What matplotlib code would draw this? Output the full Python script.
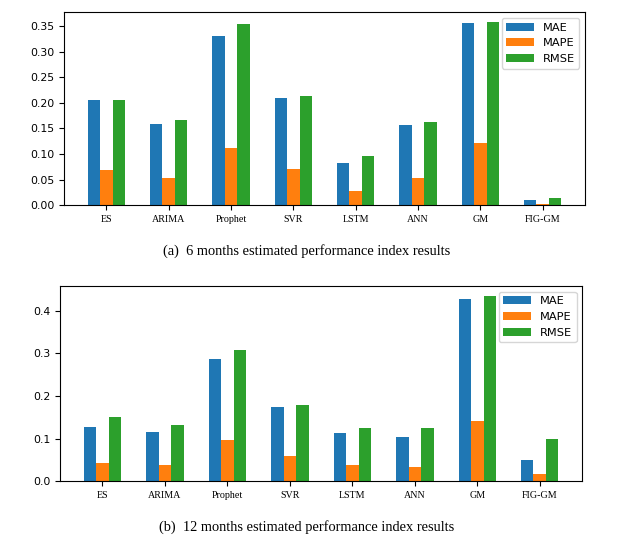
import numpy as np
import matplotlib
matplotlib.use("Agg")
import matplotlib.pyplot as plt

models = ["ES", "ARIMA", "Prophet", "SVR", "LSTM", "ANN", "GM", "FIG-GM"]
metrics = ["MAE", "MAPE", "RMSE"]

# 6 months results
mae_6 = [0.205, 0.158, 0.330, 0.210, 0.083, 0.157, 0.357, 0.010]
mape_6 = [0.069, 0.054, 0.112, 0.071, 0.028, 0.053, 0.121, 0.003]
rmse_6 = [0.206, 0.167, 0.355, 0.214, 0.096, 0.163, 0.359, 0.014]

# 12 months results
mae_12 = [0.128, 0.115, 0.286, 0.173, 0.112, 0.104, 0.428, 0.050]
mape_12 = [0.043, 0.039, 0.096, 0.058, 0.037, 0.034, 0.142, 0.016]
rmse_12 = [0.151, 0.133, 0.309, 0.180, 0.125, 0.125, 0.436, 0.100]

captions = ["(a)  6 months estimated performance index results",
            "(b)  12 months estimated performance index results"]

colors = ["#1f77b4", "#ff7f0e", "#2ca02c"]
width = 0.2


def draw(ax, series):
    x = np.arange(len(models))
    for i, (vals, name) in enumerate(zip(series, metrics)):
        ax.bar(x + (i - 1) * width, vals, width, color=colors[i], label=name)
    ax.set_xticks(x)
    ax.set_xticklabels(models, family="Liberation Serif", fontsize=7.2)
    ax.tick_params(axis="y", labelsize=7.8)
    ax.legend(loc="upper right", fontsize=8.2, handlelength=2.4)


fig = plt.figure(figsize=(6.18, 5.37), dpi=100)
ax1 = fig.add_axes([0.1036, 0.618, 0.843, 0.359])
ax2 = fig.add_axes([0.0971, 0.104, 0.845, 0.363])

draw(ax1, [mae_6, mape_6, rmse_6])
draw(ax2, [mae_12, mape_12, rmse_12])

fig.text(0.496, 0.532, captions[0], ha="center", va="center",
         family="Liberation Serif", fontsize=10.4)
fig.text(0.496, 0.019, captions[1], ha="center", va="center",
         family="Liberation Serif", fontsize=10.4)

fig.savefig("out.png", dpi=100)
